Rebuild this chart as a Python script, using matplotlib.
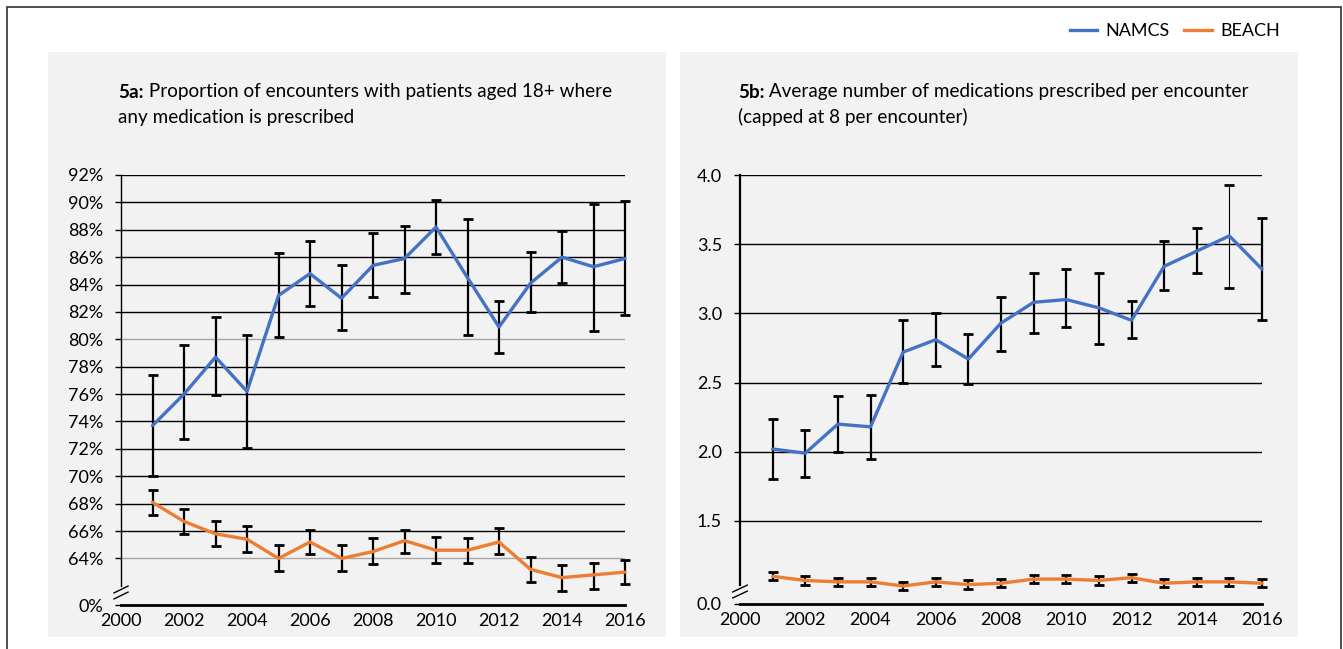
import matplotlib.pyplot as plt
from matplotlib.patches import Rectangle

plt.rcParams['font.family'] = ['Lato', 'DejaVu Sans']

years = list(range(2001, 2017))

# 5a: share of adult encounters with any medication prescribed (%)
namcs_pct = [73.7, 76.0, 78.7, 76.2, 83.2, 84.8, 83.0, 85.4, 85.9, 88.2, 84.5, 80.9, 84.1, 86.0, 85.3, 85.9]
namcs_pct_lo = [70.0, 72.7, 75.9, 72.1, 80.2, 82.4, 80.7, 83.1, 83.4, 86.2, 80.3, 79.0, 82.0, 84.1, 80.6, 81.8]
namcs_pct_hi = [77.4, 79.6, 81.6, 80.3, 86.3, 87.2, 85.4, 87.8, 88.3, 90.2, 88.8, 82.8, 86.4, 87.9, 89.9, 90.1]
beach_pct = [68.1, 66.7, 65.8, 65.4, 64.0, 65.2, 64.0, 64.5, 65.3, 64.6, 64.6, 65.2, 63.2, 62.6, 62.8, 63.0]
beach_pct_lo = [67.2, 65.8, 64.9, 64.5, 63.1, 64.3, 63.1, 63.6, 64.4, 63.7, 63.7, 64.3, 62.3, 61.6, 61.8, 62.1]
beach_pct_hi = [69.0, 67.6, 66.7, 66.4, 65.0, 66.1, 65.0, 65.5, 66.1, 65.6, 65.5, 66.2, 64.1, 63.5, 63.7, 63.9]

# 5b: mean medications per encounter (capped at 8)
namcs_meds = [2.02, 1.99, 2.20, 2.18, 2.72, 2.81, 2.67, 2.93, 3.08, 3.10, 3.04, 2.95, 3.34, 3.45, 3.56, 3.32]
namcs_meds_lo = [1.80, 1.82, 2.00, 1.95, 2.50, 2.62, 2.49, 2.73, 2.86, 2.90, 2.78, 2.82, 3.17, 3.29, 3.18, 2.95]
namcs_meds_hi = [2.24, 2.16, 2.40, 2.41, 2.95, 3.00, 2.85, 3.12, 3.29, 3.32, 3.29, 3.09, 3.52, 3.62, 3.93, 3.69]
beach_meds = [1.10, 1.07, 1.06, 1.06, 1.03, 1.06, 1.04, 1.05, 1.08, 1.08, 1.07, 1.09, 1.05, 1.06, 1.06, 1.05]
beach_meds_lo = [1.07, 1.04, 1.03, 1.03, 1.00, 1.03, 1.01, 1.02, 1.05, 1.05, 1.04, 1.06, 1.02, 1.03, 1.03, 1.02]
beach_meds_hi = [1.13, 1.10, 1.09, 1.09, 1.06, 1.09, 1.07, 1.08, 1.11, 1.11, 1.10, 1.12, 1.08, 1.09, 1.09, 1.08]

# broken axis: the "0" label sits at the bottom of the visible range
pct_ticks = [64, 66, 68, 70, 72, 74, 76, 78, 80, 82, 84, 86, 88, 90, 92]
pct_floor = 60.6
meds_ticks = [1.5, 2.0, 2.5, 3.0, 3.5, 4.0]
meds_floor = 0.9

blue = '#4472C4'
orange = '#ED7D31'

fig = plt.figure(figsize=(13.43, 6.49), dpi=100)

# outer frame and grey panel backgrounds
fig.patches.append(Rectangle((7/1343, -0.1), 1334/1343, 1.1 - 7/649, transform=fig.transFigure,
                             fill=False, edgecolor='#303030', lw=1.2, zorder=-2))
for x0 in (48, 680):
    fig.patches.append(Rectangle((x0/1343, 12/649), 618/1343, 585/649, transform=fig.transFigure,
                                 facecolor='#F2F2F2', edgecolor='none', zorder=-2))

ax1 = fig.add_axes([121/1343, 1 - 605/649, 504/1343, 430/649])
ax2 = fig.add_axes([740/1343, 1 - 604/649, 522/1343, 429/649])


def draw_series(ax, y, lo, hi, color, bar_widths=None):
    err = [[v - l for v, l in zip(y, lo)], [h - v for v, h in zip(y, hi)]]
    _, caps, bars = ax.errorbar(years, y, yerr=err, fmt='none', ecolor='black',
                                elinewidth=1.6, capsize=3.6, capthick=2.0, zorder=3)
    for a in list(caps) + list(bars):
        a.set_clip_on(False)
    if bar_widths is not None:
        bars[0].set_linewidths(bar_widths)
    ax.plot(years, y, color=color, lw=2.4, zorder=4, solid_capstyle='round', clip_on=False)


def style_axis(ax, floor, ticks, labels, grey_rows):
    ax.set_facecolor('none')
    ax.set_xlim(2000, 2016)
    ax.set_ylim(floor, ticks[-1])
    for t in ticks:
        c = '#A6A6A6' if t in grey_rows else 'black'
        ax.axhline(t, color=c, lw=1.0, zorder=1)
    ax.set_yticks([floor] + ticks)
    ax.set_yticklabels(labels)
    ax.set_xticks(range(2000, 2017, 2))
    ax.tick_params(axis='x', length=0, pad=6, labelsize=13)
    ax.tick_params(axis='y', length=4, width=1.0, pad=9, labelsize=13)
    for s in ('top', 'right'):
        ax.spines[s].set_visible(False)
    ax.spines['bottom'].set_linewidth(2.0)
    ax.spines['left'].set_linewidth(1.0)
    # leave a gap in the y axis for the break marks
    lo, hi = ax.get_ylim()
    ax.spines['left'].set_bounds(lo + (hi - lo) * 0.045, hi)
    for dy in (0.022, 0.036):
        ax.plot([-0.014, 0.014], [dy - 0.008, dy + 0.008], transform=ax.transAxes,
                color='black', lw=1.0, clip_on=False, zorder=5)


draw_series(ax1, namcs_pct, namcs_pct_lo, namcs_pct_hi, blue)
draw_series(ax1, beach_pct, beach_pct_lo, beach_pct_hi, orange)
style_axis(ax1, pct_floor, pct_ticks, ['0%'] + [f'{t}%' for t in pct_ticks], (64, 80))

namcs_bar_lw = [1.6] * 16
namcs_bar_lw[14] = 0.8
draw_series(ax2, namcs_meds, namcs_meds_lo, namcs_meds_hi, blue, namcs_bar_lw)
draw_series(ax2, beach_meds, beach_meds_lo, beach_meds_hi, orange)
style_axis(ax2, meds_floor, meds_ticks, ['0.0'] + [f'{t:.1f}' for t in meds_ticks], ())
ax2.spines['left'].set_linewidth(1.6)

# panel titles: bold label followed by regular text
for x0, tag, line1, line2 in (
        (118, '5a:', ' Proportion of encounters with patients aged 18+ where', 'any medication is prescribed'),
        (738, '5b:', ' Average number of medications prescribed per encounter', '(capped at 8 per encounter)')):
    t = fig.text(x0/1343, 1 - 92/649, tag, fontsize=13.6, fontweight='bold', va='center')
    fig.canvas.draw()
    fig.text(t.get_window_extent().x1 / fig.bbox.width, 1 - 92/649, line1, fontsize=13.6, va='center')
    fig.text(x0/1343, 1 - 117/649, line2, fontsize=13.6, va='center')

handles = [plt.Line2D([], [], color=blue, lw=2.4), plt.Line2D([], [], color=orange, lw=2.4)]
fig.legend(handles, ['NAMCS', 'BEACH'], loc='center', bbox_to_anchor=(1175/1343, 1 - 31/649),
           ncol=2, frameon=False, fontsize=13, handlelength=1.5, columnspacing=0.8, handletextpad=0.5)

fig.savefig('out.png', dpi=100)
